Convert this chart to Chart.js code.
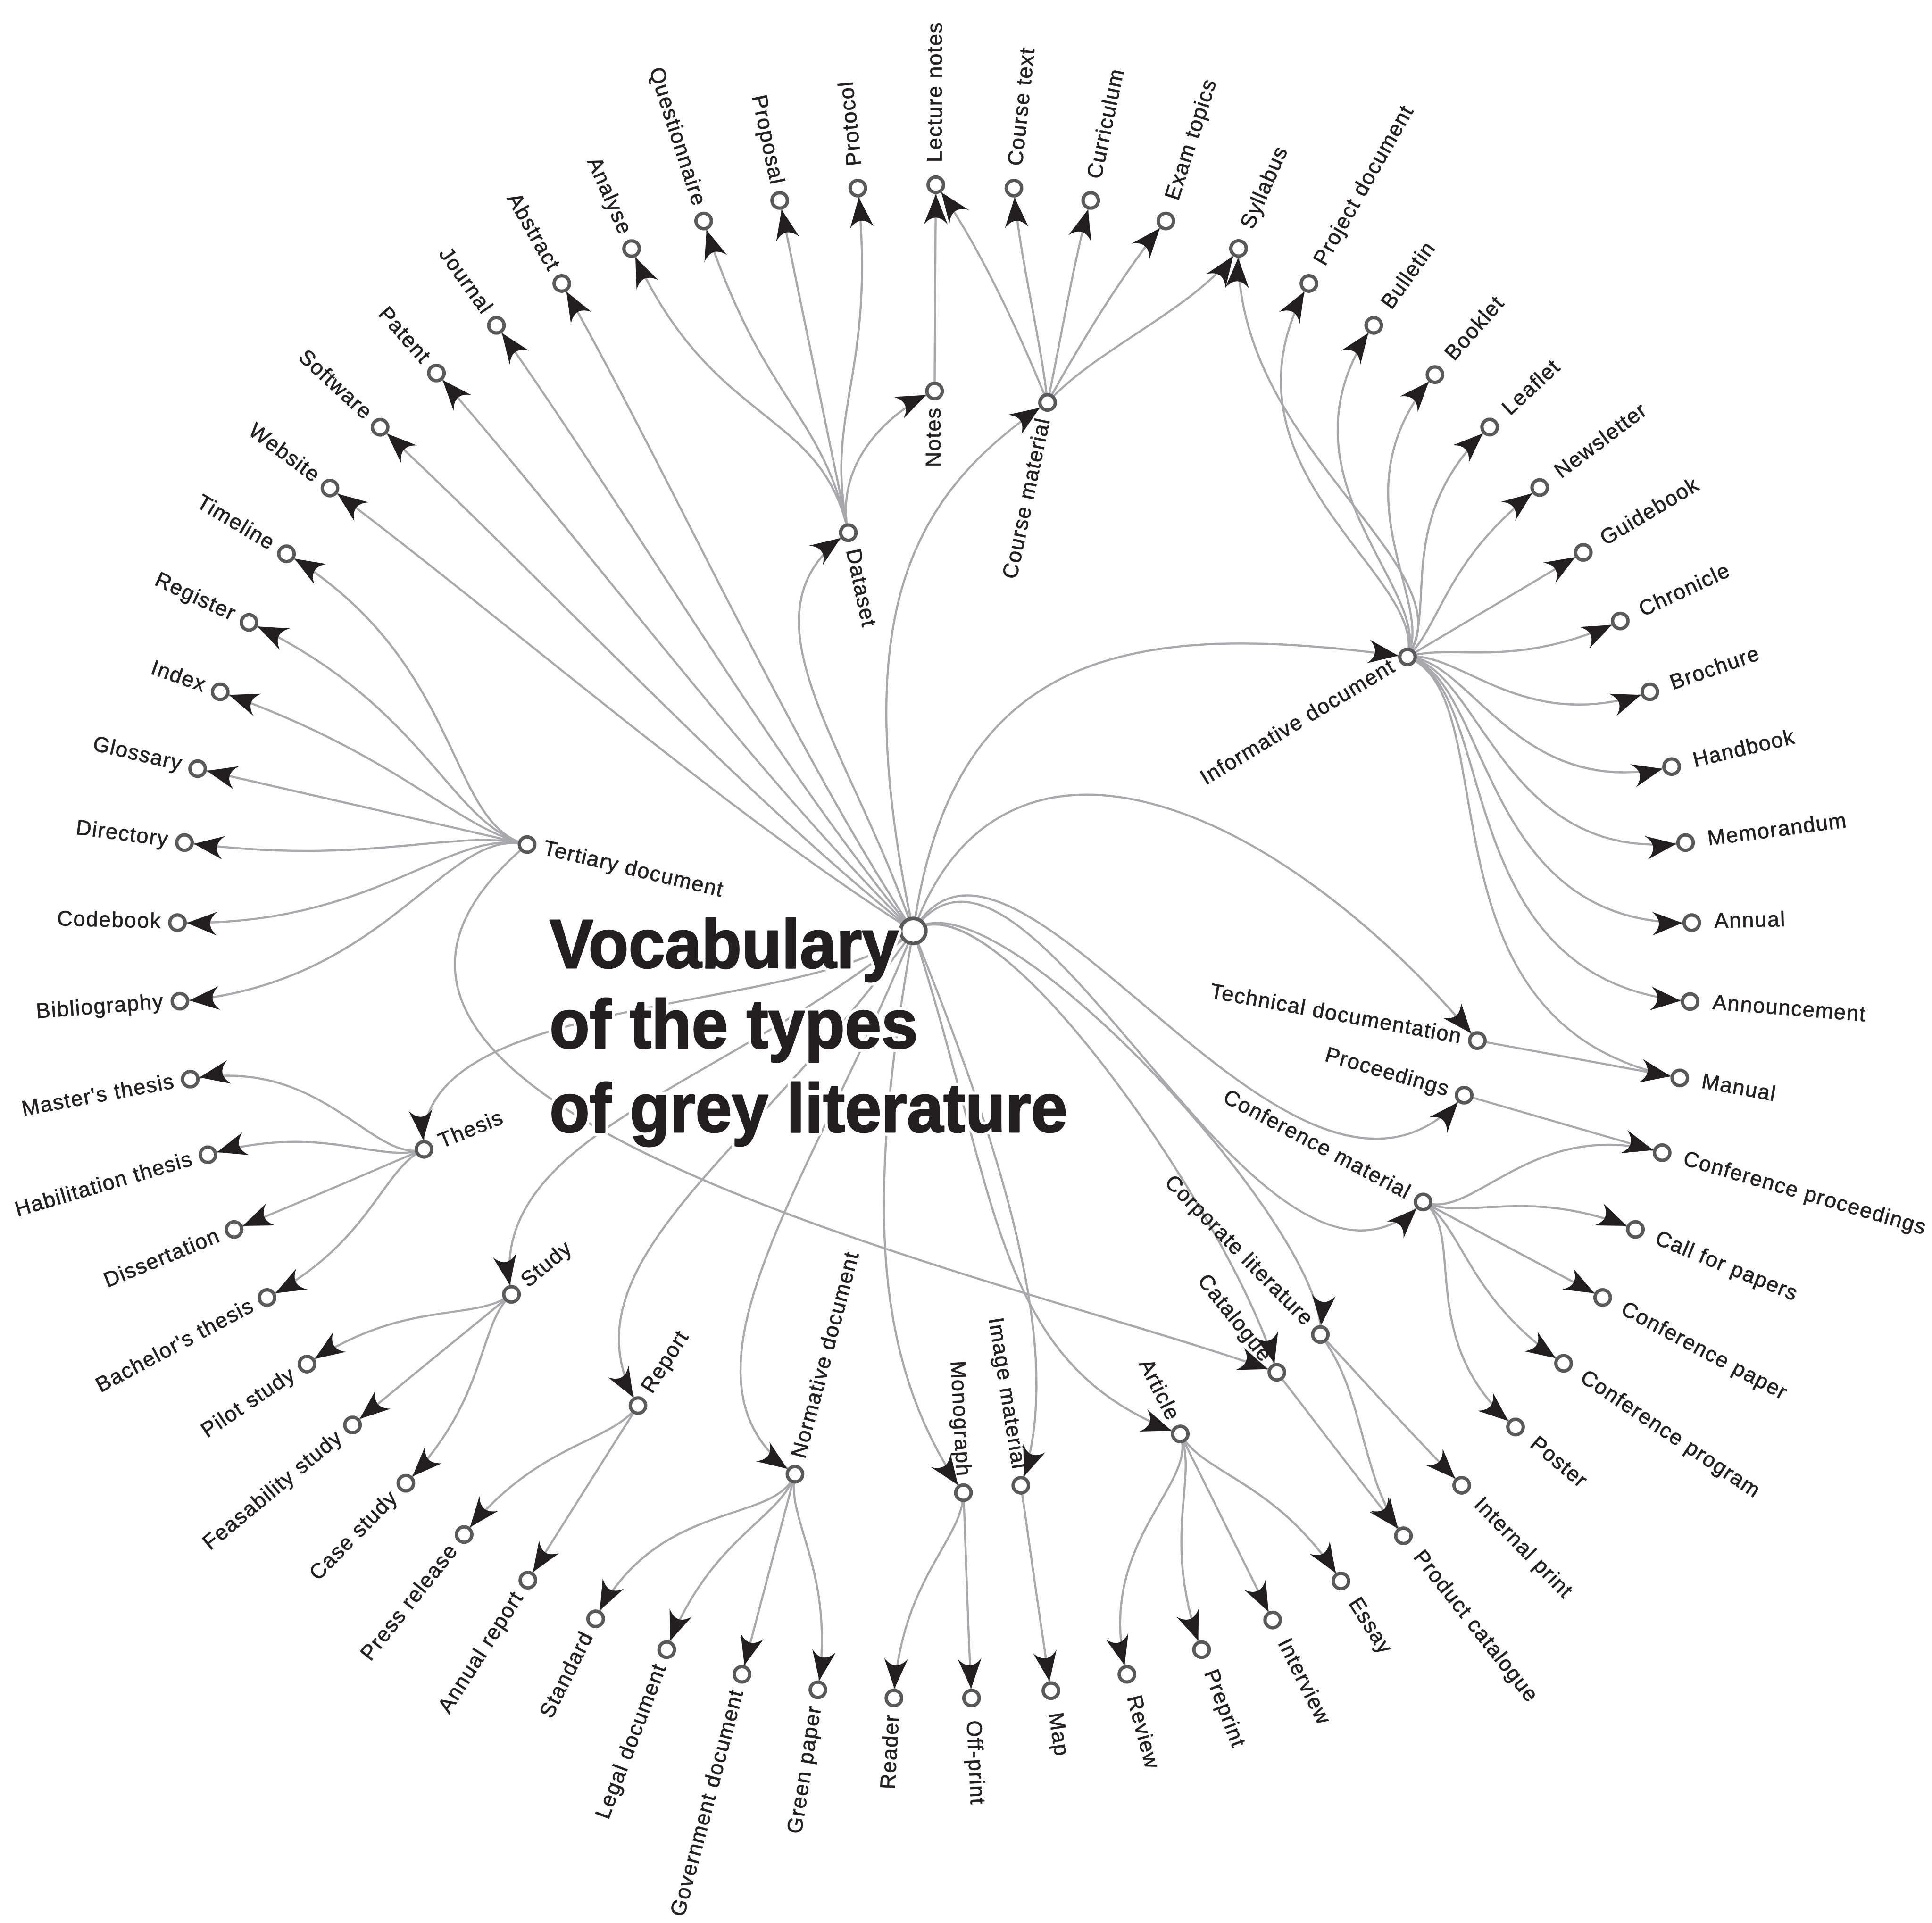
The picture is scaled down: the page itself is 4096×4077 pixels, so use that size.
<!DOCTYPE html>
<html>
<head>
<meta charset="utf-8">
<title>Vocabulary of the types of grey literature</title>
<script src="https://cdn.jsdelivr.net/npm/chart.js@4.4.1/dist/chart.umd.min.js"></script>
<style>
  html, body { margin: 0; padding: 0; background: #fff; }
  #wrap { width: 4096px; height: 4077px; }
</style>
</head>
<body>
<div id="wrap"><canvas id="graph" width="4096" height="4077"></canvas></div>
<script>
// Data (positions in the units of the picture, 1568 x 1561)

const titleLines = ['Vocabulary', 'of the types', 'of grey literature'];

const rootName = 'Grey literature';
const rootX = 741.2;
const rootY = 755.7;

const hubNames = ['Tertiary document', 'Dataset', 'Notes', 'Course material', 'Informative document',
  'Technical documentation', 'Proceedings', 'Conference material', 'Corporate literature', 'Catalogue',
  'Article', 'Image material', 'Monograph', 'Normative document', 'Report', 'Study', 'Thesis'];
const hubX = [427.8, 688.5, 758.5, 850.2, 1142.3, 1199.0, 1188.3, 1155.0, 1071.6, 1036.3,
  957.9, 828.5, 781.9, 645.2, 517.8, 415.1, 344.1];
const hubY = [685.6, 432.4, 317.4, 326.7, 533.3, 844.7, 889.0, 975.7, 1083.3, 1114.0,
  1164.0, 1205.7, 1211.7, 1196.7, 1141.0, 1050.7, 933.0];

const leafNames = ['Analyse', 'Questionnaire', 'Proposal', 'Protocol', 'Lecture notes', 'Course text',
  'Curriculum', 'Exam topics', 'Syllabus', 'Project document', 'Bulletin', 'Booklet', 'Leaflet',
  'Newsletter', 'Guidebook', 'Chronicle', 'Brochure', 'Handbook', 'Memorandum', 'Annual',
  'Announcement', 'Manual', 'Conference proceedings', 'Call for papers', 'Conference paper',
  'Conference program', 'Poster', 'Internal print', 'Product catalogue', 'Essay', 'Interview',
  'Preprint', 'Review', 'Map', 'Off-print', 'Reader', 'Green paper', 'Government document',
  'Legal document', 'Standard', 'Annual report', 'Press release', 'Case study', 'Feasability study',
  'Pilot study', "Bachelor's thesis", 'Dissertation', 'Habilitation thesis', "Master's thesis",
  'Bibliography', 'Codebook', 'Directory', 'Glossary', 'Index', 'Register', 'Timeline', 'Website',
  'Software', 'Patent', 'Journal', 'Abstract'];
const leafX = [512.6, 571.1, 632.8, 696.2, 759.5, 822.9, 885.2, 946.2, 1005.2, 1062.3, 1114.9, 1164.6,
  1209.0, 1249.6, 1285.0, 1315.0, 1339.0, 1356.7, 1368.0, 1373.0, 1371.7, 1363.3, 1349.0, 1327.3,
  1300.7, 1269.0, 1230.0, 1186.3, 1139.0, 1088.3, 1032.9, 975.2, 914.6, 852.9, 788.5, 725.5, 663.8,
  602.2, 541.1, 483.4, 428.4, 376.7, 329.4, 286.1, 249.1, 216.7, 190.0, 168.7, 154.4, 146.0, 144.0,
  149.7, 160.4, 178.7, 202.1, 232.5, 267.8, 308.5, 354.2, 402.9, 455.9];
const leafY = [201.8, 179.4, 162.7, 152.7, 150.0, 152.7, 162.7, 179.4, 201.7, 230.1, 264.1, 304.1,
  346.7, 395.8, 448.4, 504.1, 561.6, 622.3, 684.0, 749.0, 813.0, 875.0, 935.7, 998.0, 1053.3, 1106.7,
  1158.4, 1205.7, 1246.7, 1283.4, 1315.1, 1339.1, 1359.1, 1372.4, 1378.4, 1378.4, 1371.7, 1359.1,
  1339.1, 1314.1, 1282.7, 1245.7, 1204.0, 1156.7, 1107.3, 1053.3, 998.0, 937.4, 876.0, 812.7, 749.0,
  684.0, 624.0, 561.6, 505.3, 449.6, 396.2, 346.8, 302.8, 264.1, 230.1];

const edgeList = [
  [rootName, 'Website'], [rootName, 'Software'], [rootName, 'Patent'], [rootName, 'Journal'],
  [rootName, 'Abstract'], [rootName, 'Dataset'], [rootName, 'Course material'],
  [rootName, 'Informative document'], [rootName, 'Technical documentation'], [rootName, 'Proceedings'],
  [rootName, 'Conference material'], [rootName, 'Corporate literature'], [rootName, 'Catalogue'],
  [rootName, 'Article'], [rootName, 'Image material'], [rootName, 'Monograph'],
  [rootName, 'Normative document'], [rootName, 'Report'], [rootName, 'Study'], [rootName, 'Thesis'],
  ['Tertiary document', 'Timeline'], ['Tertiary document', 'Register'], ['Tertiary document', 'Index'],
  ['Tertiary document', 'Glossary'], ['Tertiary document', 'Directory'], ['Tertiary document', 'Codebook'],
  ['Tertiary document', 'Bibliography'], ['Tertiary document', 'Catalogue'],
  ['Dataset', 'Analyse'], ['Dataset', 'Questionnaire'], ['Dataset', 'Proposal'], ['Dataset', 'Protocol'],
  ['Dataset', 'Notes'], ['Notes', 'Lecture notes'],
  ['Course material', 'Lecture notes'], ['Course material', 'Course text'], ['Course material', 'Curriculum'],
  ['Course material', 'Exam topics'], ['Course material', 'Syllabus'],
  ['Informative document', 'Syllabus'], ['Informative document', 'Project document'],
  ['Informative document', 'Bulletin'], ['Informative document', 'Booklet'],
  ['Informative document', 'Leaflet'], ['Informative document', 'Newsletter'],
  ['Informative document', 'Guidebook'], ['Informative document', 'Chronicle'],
  ['Informative document', 'Brochure'], ['Informative document', 'Handbook'],
  ['Informative document', 'Memorandum'], ['Informative document', 'Annual'],
  ['Informative document', 'Announcement'], ['Informative document', 'Manual'],
  ['Technical documentation', 'Manual'], ['Proceedings', 'Conference proceedings'],
  ['Conference material', 'Conference proceedings'], ['Conference material', 'Call for papers'],
  ['Conference material', 'Conference paper'], ['Conference material', 'Conference program'],
  ['Conference material', 'Poster'],
  ['Corporate literature', 'Internal print'], ['Corporate literature', 'Product catalogue'],
  ['Catalogue', 'Product catalogue'],
  ['Article', 'Review'], ['Article', 'Preprint'], ['Article', 'Interview'], ['Article', 'Essay'],
  ['Image material', 'Map'], ['Monograph', 'Reader'], ['Monograph', 'Off-print'],
  ['Normative document', 'Standard'], ['Normative document', 'Legal document'],
  ['Normative document', 'Government document'], ['Normative document', 'Green paper'],
  ['Report', 'Press release'], ['Report', 'Annual report'],
  ['Study', 'Pilot study'], ['Study', 'Feasability study'], ['Study', 'Case study'],
  ['Thesis', "Master's thesis"], ['Thesis', 'Habilitation thesis'], ['Thesis', 'Dissertation'],
  ['Thesis', "Bachelor's thesis"]
];

// Layout and style

const SCALE = 0.971;                 // reference pixels -> canvas pixels
const INK = '#231f20';
const LINK = '#a7a9ac';
const RIM = '#58595b';
const RING_X = 758.7, RING_Y = 764.5; // centre of the outer ring
const FLIP_LOW = -98, FLIP_HIGH = 90; // outside this angle range labels are turned over
const NODE_R = 20.5 * SCALE, NODE_RIM = 7.4 * SCALE;
const ROOT_R = 31.5 * SCALE, ROOT_RIM = 8 * SCALE;
const LABEL_FONT = (46.5 * SCALE).toFixed(1) + 'px "Liberation Sans", Arial, sans-serif';
const LABEL_SPACING = (2 * SCALE).toFixed(1) + 'px';
const GAP_LEAF = 49 * SCALE, GAP_HUB = 37 * SCALE, GAP_END = 35 * SCALE;
const TITLE_FONT = 'bold ' + (150 * SCALE).toFixed(1) + 'px "Liberation Sans", Arial, sans-serif';
const TITLE_SQUEEZE = 0.955;
const TITLE_X = 446;
const TITLE_BASE = [785.6, 850.7, 919.0];
const ARROW_LEN = 66 * SCALE, ARROW_HALF = 26 * SCALE, ARROW_NOTCH = 15 * SCALE;

// how much a hub's links turn towards their targets as they leave it
const hubFan = { 'Tertiary document': 0, 'Dataset': 0, 'Informative document': 0.6 };
// how far a hub's links run together before they part
const hubReach = { 'Dataset': 0.36 };
// hand-shaped links: [leave angle, arrive angle, leave length, arrive length]
const curveStyle = {
  'Grey literature>Dataset': [251, 325, 0.5, 0.35],
  'Grey literature>Course material': [258, 326, 0.6, 0.3],
  'Grey literature>Informative document': [278, 8, 0.5, 0.5],
  'Grey literature>Technical documentation': [290, 50, 0.45, 0.55],
  'Grey literature>Proceedings': [300, 311, 0.35, 0.45],
  'Grey literature>Conference material': [305, 315, 0.35, 0.4],
  'Grey literature>Corporate literature': [320, 95, 0.18, 0.18],
  'Grey literature>Catalogue': [325, 75, 0.18, 0.25],
  'Grey literature>Article': [72, 20, 0.5, 0.35],
  'Grey literature>Image material': [68, 110, 0.4, 0.25],
  'Grey literature>Monograph': [100, 55, 0.45, 0.3],
  'Grey literature>Normative document': [112, 35, 0.5, 0.3],
  'Grey literature>Report': [125, 60, 0.5, 0.3],
  'Grey literature>Study': [140, 80, 0.45, 0.3],
  'Grey literature>Thesis': [140, 85, 0.25, 0.3],
  'Tertiary document>Catalogue': [140, 20, 0.45, 0.3],
  'Dataset>Notes': [258, 335, 0.4, 0.35],
  'Course material>Lecture notes': [248, 234, 0.3, 0.3],
  'Course material>Course text': [264, 266, 0.3, 0.3],
  'Course material>Curriculum': [282, 286, 0.3, 0.3],
  'Course material>Exam topics': [299, 310, 0.3, 0.3],
  'Course material>Syllabus': [312, 305, 0.3, 0.3],
  'Informative document>Syllabus': [305, 272, 0.25, 0.45],
  'Corporate literature>Product catalogue': [53, 54, 0.35, 0.35]
};

const deg = Math.PI / 180;
const wrap = a => Math.atan2(Math.sin(a), Math.cos(a));

function geometry(chart) {
  const xs = chart.scales.x, ys = chart.scales.y;
  const px = (x, y) => ({ x: xs.getPixelForValue(x), y: ys.getPixelForValue(y) });
  const pos = {};
  pos[rootName] = px(rootX, rootY);
  hubNames.forEach((n, i) => { pos[n] = px(hubX[i], hubY[i]); });
  leafNames.forEach((n, i) => { pos[n] = px(leafX[i], leafY[i]); });
  return { pos, ring: px(RING_X, RING_Y), px };
}

function outward(g, p) {
  return Math.atan2(p.y - g.ring.y, p.x - g.ring.x);
}

function linkPath(g, from, to) {
  const p0 = g.pos[from], p3 = g.pos[to];
  const len = Math.hypot(p3.x - p0.x, p3.y - p0.y);
  const chord = Math.atan2(p3.y - p0.y, p3.x - p0.x);
  let a0, a3, k0, k3;
  if (from === rootName) {
    a0 = chord - 5 * deg; a3 = outward(g, p3); k0 = 0.3; k3 = 0.3;
  } else {
    const r0 = outward(g, p0);
    const fan = from in hubFan ? hubFan[from] : 0.15;
    a0 = r0 + fan * wrap(chord - r0);
    a3 = outward(g, p3);
    k0 = from in hubReach ? hubReach[from] : 0.22;
    k3 = 0.55;
  }
  const s = curveStyle[from + '>' + to];
  if (s) { a0 = s[0] * deg; a3 = s[1] * deg; k0 = s[2]; k3 = s[3]; }
  return {
    p0, p3, a3,
    c1: { x: p0.x + Math.cos(a0) * k0 * len, y: p0.y + Math.sin(a0) * k0 * len },
    c2: { x: p3.x - Math.cos(a3) * k3 * len, y: p3.y - Math.sin(a3) * k3 * len }
  };
}

function drawArrow(ctx, p, ang) {
  ctx.save();
  ctx.translate(p.x - Math.cos(ang) * NODE_R, p.y - Math.sin(ang) * NODE_R);
  ctx.rotate(ang);
  ctx.beginPath();
  ctx.moveTo(0, 0);
  ctx.lineTo(-ARROW_LEN, -ARROW_HALF);
  ctx.quadraticCurveTo(-ARROW_LEN + 2 * ARROW_NOTCH, 0, -ARROW_LEN, ARROW_HALF);
  ctx.closePath();
  ctx.fillStyle = INK;
  ctx.fill();
  ctx.restore();
}

function drawLabel(ctx, g, name, isHub) {
  const p = g.pos[name];
  const th = outward(g, p);
  const d = th / deg;
  const flip = d > FLIP_HIGH || d < FLIP_LOW;
  ctx.save();
  ctx.translate(p.x, p.y);
  ctx.rotate(flip ? th + Math.PI : th);
  // leaves read away from the centre, hubs towards it
  const atStart = flip ? isHub : !isHub;
  ctx.textAlign = atStart ? 'left' : 'right';
  const x = atStart ? (isHub ? GAP_HUB : GAP_LEAF) : -GAP_END;
  ctx.strokeText(name, x, 0);
  ctx.fillText(name, x, 0);
  ctx.restore();
}

const graphPlugin = {
  id: 'graph',
  beforeDatasetsDraw(chart) {
    const ctx = chart.ctx;
    const g = geometry(chart);
    ctx.save();
    ctx.strokeStyle = LINK;
    ctx.lineWidth = 4.6 * SCALE;
    const paths = edgeList.map(e => linkPath(g, e[0], e[1]));
    paths.forEach(l => {
      ctx.beginPath();
      ctx.moveTo(l.p0.x, l.p0.y);
      ctx.bezierCurveTo(l.c1.x, l.c1.y, l.c2.x, l.c2.y, l.p3.x, l.p3.y);
      ctx.stroke();
    });
    paths.forEach(l => drawArrow(ctx, l.p3, l.a3));
    ctx.restore();
  },
  afterDatasetsDraw(chart) {
    const ctx = chart.ctx;
    const g = geometry(chart);
    ctx.save();
    ctx.fillStyle = INK;
    ctx.strokeStyle = INK;
    ctx.lineWidth = 0.8;
    ctx.font = LABEL_FONT;
    if ('letterSpacing' in ctx) ctx.letterSpacing = LABEL_SPACING;
    ctx.textBaseline = 'middle';
    leafNames.forEach(n => drawLabel(ctx, g, n, false));
    hubNames.forEach(n => drawLabel(ctx, g, n, true));
    ctx.restore();

    // title with a white halo over the links
    ctx.save();
    ctx.font = TITLE_FONT;
    if ('letterSpacing' in ctx) ctx.letterSpacing = '0px';
    ctx.textAlign = 'left';
    ctx.textBaseline = 'alphabetic';
    ctx.lineJoin = 'round';
    ctx.fillStyle = INK;
    titleLines.forEach((line, i) => {
      const p = g.px(TITLE_X, TITLE_BASE[i]);
      ctx.save();
      ctx.translate(p.x, p.y);
      ctx.scale(TITLE_SQUEEZE, 1);
      ctx.strokeStyle = '#fff';
      ctx.lineWidth = 16 * SCALE;
      ctx.strokeText(line, 0, 0);
      ctx.strokeStyle = INK;
      ctx.lineWidth = 3 * SCALE;
      ctx.strokeText(line, 0, 0);
      ctx.fillText(line, 0, 0);
      ctx.restore();
    });
    ctx.restore();
  }
};

const pointStyle = (r, rim) => ({
  pointRadius: r - rim / 2,
  pointHoverRadius: r - rim / 2,
  pointBorderWidth: rim,
  pointHoverBorderWidth: rim,
  pointBackgroundColor: '#ffffff',
  pointBorderColor: RIM,
  pointHoverBackgroundColor: '#ffffff',
  pointHoverBorderColor: RIM
});

new Chart(document.getElementById('graph'), {
  type: 'scatter',
  data: {
    datasets: [
      Object.assign({ label: 'Types', data: leafNames.map((n, i) => ({ x: leafX[i], y: leafY[i] })) },
        pointStyle(NODE_R, NODE_RIM)),
      Object.assign({ label: 'Groups', data: hubNames.map((n, i) => ({ x: hubX[i], y: hubY[i] })) },
        pointStyle(NODE_R, NODE_RIM)),
      Object.assign({ label: rootName, data: [{ x: rootX, y: rootY }] },
        pointStyle(ROOT_R, ROOT_RIM))
    ]
  },
  options: {
    responsive: false,
    devicePixelRatio: 1,
    animation: false,
    events: [],
    layout: { padding: 0, autoPadding: false },
    scales: {
      x: { type: 'linear', min: 0, max: 1568, display: false },
      y: { type: 'linear', min: 0, max: 1561, reverse: true, display: false }
    },
    plugins: {
      legend: { display: false },
      tooltip: { enabled: false },
      title: { display: false }
    }
  },
  plugins: [graphPlugin]
});
</script>
</body>
</html>
